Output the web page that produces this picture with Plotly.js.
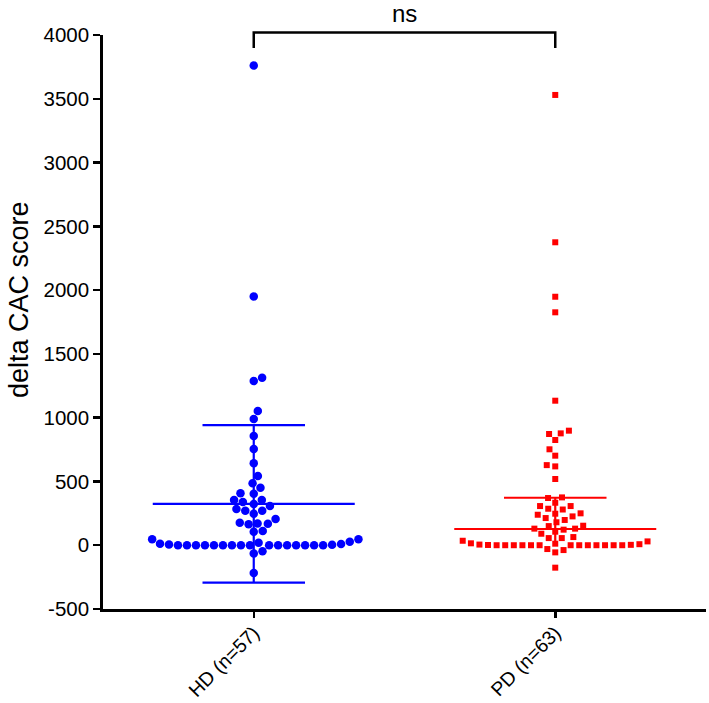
<!DOCTYPE html>
<html>
<head>
<meta charset="utf-8">
<script src="https://cdn.plot.ly/plotly-3.0.1.min.js"></script>
<style>html,body{margin:0;padding:0;background:#fff;}#chart{width:709px;height:703px;}</style>
</head>
<body>
<div id="chart"></div>
<script>
// ---- data ----
const categories = ["HD (n=57)", "PD (n=63)"];
const hdValues = [3760, 1950, 1313, 1287, 1052, 989, 856, 754, 642, 542, 485, 451, 407, 404,
  354, 354, 339, 323, 307, 284, 271, 271, 247, 205, 177, 171, 169, 164, 111, 106, 46, 46,
  -48, -64, -218,
  28, 10, 3, 0, 0, 0, 0, 0, 0, 0, 0, 0, 0, 0, 0, 0, 0, 0, 0, 5, 12, 20];
const pdValues = [3530, 2375, 1948, 1826, 1133, 898, 877, 872, 825, 752, 702, 628, 618, 519,
  375, 370, 333, 307, 307, 286, 250, 247, 239, 226, 213, 198, 153, 150, 130, 130, 122, 106,
  64, 56, 56, 30, -30, -38, -56, -176, 280, 180, 90, 35, 0,
  3, 0, 0, 0, 0, 0, 0, 0, 0, 0, 0, 0, 0, 2, 5, 8, 12, 15];
// summary lines: centre, lower, upper
const hdSummary = [324, -294, 942];
const pdSummary = [127, 0, 372];
const yTicks = [-500, 0, 500, 1000, 1500, 2000, 2500, 3000, 3500, 4000];
const yTitle = "delta CAC score";
const sigLabel = "ns";

// ---- layout constants ----
const M = {l: 103, r: 3, t: 35, b: 94};
const W = 709, H = 703;
const xRange = [-0.5, 1.5], yRange = [-500, 4000];
const FONT = "Liberation Sans, Arial, Helvetica, sans-serif";

function swarm(values, center, diam) {
  const pw = W - M.l - M.r, ph = H - M.t - M.b;
  const ky = ph / (yRange[1] - yRange[0]), kx = pw / (xRange[1] - xRange[0]);
  const idx = values.map((v, i) => i).sort((a, b) => values[a] - values[b]);
  const placed = [], xs = new Array(values.length);
  let flip = 1;
  for (const i of idx) {
    const py = values[i] * ky;
    const cands = [0];
    for (const p of placed) {
      const dy = py - p.y;
      if (Math.abs(dy) < diam) {
        const dx = Math.sqrt(diam * diam - dy * dy);
        cands.push(p.x + dx, p.x - dx);
      }
    }
    cands.sort((a, b) => Math.abs(a) - Math.abs(b) || (flip * (b - a)));
    let chosen = 0;
    for (const c of cands) {
      if (placed.every(p => (p.x - c) ** 2 + (p.y - py) ** 2 >= diam * diam - 1e-6)) { chosen = c; break; }
    }
    flip = -flip;
    placed.push({x: chosen, y: py});
    xs[i] = center + chosen / kx;
  }
  return xs;
}

function summaryTraces(pos, s, color, lowerCap) {
  const out = [];
  const line = {color: color, width: 2.2};
  out.push({x: [pos - 0.335, pos + 0.335], y: [s[0], s[0]], mode: "lines", line, hoverinfo: "skip", showlegend: false});
  out.push({x: [pos, pos], y: [s[1], s[2]], mode: "lines", line, hoverinfo: "skip", showlegend: false});
  out.push({x: [pos - 0.17, pos + 0.17], y: [s[2], s[2]], mode: "lines", line, hoverinfo: "skip", showlegend: false});
  if (lowerCap) out.push({x: [pos - 0.17, pos + 0.17], y: [s[1], s[1]], mode: "lines", line, hoverinfo: "skip", showlegend: false});
  return out;
}

const traces = [
  {x: swarm(hdValues, 0, 9), y: hdValues, mode: "markers", type: "scatter",
   marker: {symbol: "circle", size: 8.5, color: "#0000ff"}, showlegend: false},
  {x: swarm(pdValues, 1, 8.6), y: pdValues, mode: "markers", type: "scatter",
   marker: {symbol: "square", size: 6, color: "#ff0000"}, showlegend: false},
  ...summaryTraces(0, hdSummary, "#0000ff", true),
  ...summaryTraces(1, pdSummary, "#ff0000", false)
];

const pw = W - M.l - M.r, ph = H - M.t - M.b;
const pxToPaperY = py => 1 - (py - M.t) / ph;
const pxToPaperX = px => (px - M.l) / pw;
const toPaperX = v => (v - xRange[0]) / (xRange[1] - xRange[0]);

const layout = {
  width: W, height: H,
  margin: M,
  paper_bgcolor: "#fff", plot_bgcolor: "#fff",
  font: {family: FONT, color: "#000", size: 20},
  showlegend: false,
  xaxis: {
    range: xRange, tickvals: [0, 1], ticktext: categories, tickangle: -45,
    showline: true, linecolor: "#000", linewidth: 2.8, showgrid: false, zeroline: false,
    ticks: "outside", ticklen: 6, tickwidth: 2.5, tickcolor: "#000", ticklabelstandoff: -4,
    tickfont: {family: FONT, size: 19.5, color: "#000"}, fixedrange: true
  },
  yaxis: {
    range: yRange, tickvals: yTicks, ticktext: yTicks.map(String),
    showline: true, linecolor: "#000", linewidth: 2.8, showgrid: false, zeroline: false,
    ticks: "outside", ticklen: 7, tickwidth: 2.5, tickcolor: "#000",
    tickfont: {family: FONT, size: 20.5, color: "#000"},
    fixedrange: true
  },
  shapes: [{
    type: "path", xref: "paper", yref: "paper",
    path: "M " + toPaperX(0) + "," + pxToPaperY(48) + " L " + toPaperX(0) + "," + pxToPaperY(32.5) +
          " L " + toPaperX(1) + "," + pxToPaperY(32.5) + " L " + toPaperX(1) + "," + pxToPaperY(48),
    line: {color: "#000", width: 2.5}
  }],
  annotations: [{
    xref: "paper", yref: "paper", x: toPaperX(0.5), y: pxToPaperY(14),
    text: sigLabel, showarrow: false, xanchor: "center", yanchor: "middle",
    font: {family: FONT, size: 24, color: "#000"}
  }, {
    xref: "paper", yref: "paper", x: pxToPaperX(19), y: pxToPaperY(300),
    text: yTitle, showarrow: false, textangle: -90, xanchor: "center", yanchor: "middle",
    font: {family: FONT, size: 27, color: "#000"}
  }]
};

Plotly.newPlot("chart", traces, layout, {staticPlot: true, displayModeBar: false});
</script>
</body>
</html>
